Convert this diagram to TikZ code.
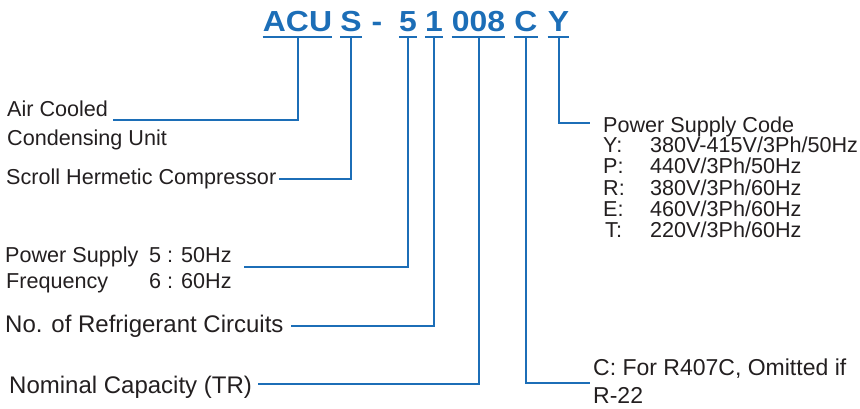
\documentclass[tikz,border=0pt]{standalone}
\usepackage{fontspec}
\setmainfont{Liberation Sans}
\newfontfamily\codefont{Liberation Sans}[FakeStretch=1.1]
\definecolor{cblue}{HTML}{1C6EB7}
\definecolor{ctext}{HTML}{231F20}
\begin{document}
\begin{tikzpicture}[x=1pt,y=-1pt,
  lbl/.style={anchor=base west, inner sep=0pt, text=ctext, font=\fontsize{21.6}{24}\selectfont},
  big/.style={lbl, font=\fontsize{24}{28}\selectfont},
  mid/.style={lbl, font=\fontsize{23}{26}\selectfont},
  code/.style={anchor=base, inner sep=0pt, text=cblue, font=\codefont\bfseries\fontsize{29}{32}\selectfont},
  uline/.style={draw=cblue, line width=2.6pt},
  conn/.style={draw=cblue, line width=2pt}]
\useasboundingbox (0,0) rectangle (860,409);

% code letters
\node[code] (acu) at (297.5,32) {ACU};
\node[code] (s)   at (351,32) {S};
\node[code] (dash) at (377,32) {-};
\node[code] (five) at (408,32) {5};
\node[code] (one)  at (434,32) {1};
\node[code] (cap)  at (478.5,32) {008};
\node[code] (c)    at (526,32) {C};
\node[code] (y)    at (558.5,32) {Y};

\foreach \n in {acu,s,five,one,cap,c,y}
  \draw[uline] ([yshift=-5pt]\n.base west) -- coordinate (\n U) ([yshift=-5pt]\n.base east);

% left labels
\node[lbl] (air)    at (7,117) {Air Cooled};
\node[lbl] (cond)   at (7,146) {Condensing Unit};
\node[lbl] (scroll) at (6,185) {Scroll Hermetic Compressor};
\node[lbl] (ps1)    at (5,262) {Power Supply};
\node[lbl] (ps2)    at (149,262) {5 : 50Hz};
\node[lbl] (ps3)    at (6,288) {Frequency};
\node[lbl] (ps4)    at (149,288) {6 : 60Hz};
\node[big] (nrc)    at (5,332) {No. of Refrigerant Circuits};
\node[big] (nom)    at (9,393) {Nominal Capacity (TR)};

% right labels
\node[lbl] (psc) at (603,132.7) {Power Supply Code};
\node[lbl] (kY) at (603,153) {Y:};   \node[lbl] (vY) at (650,153) {380V-415V/3Ph/50Hz};
\node[lbl] (kP) at (603,174) {P:};   \node[lbl] (vP) at (650,174) {440V/3Ph/50Hz};
\node[lbl] (kR) at (603,195.5) {R:}; \node[lbl] (vR) at (650,195.5) {380V/3Ph/60Hz};
\node[lbl] (kE) at (603,216.5) {E:}; \node[lbl] (vE) at (650,216.5) {460V/3Ph/60Hz};
\node[lbl] (kT) at (605,237) {T:};   \node[lbl] (vT) at (650,237) {220V/3Ph/60Hz};
\node[mid] (cr1) at (593,375) {C: For R407C, Omitted if};
\node[mid] (cr2) at (593,403) {R-22};

% connectors
\draw[conn] (acuU) |- ([xshift=5pt,yshift=-3pt]air.base east);
\draw[conn] (sU) |- ([xshift=3pt,yshift=6pt]scroll.base east);
\draw[conn] (fiveU) |- ([xshift=12pt,yshift=-5pt]ps2.base east);
\draw[conn] (oneU) |- ([xshift=7pt,yshift=6pt]nrc.base east);
\draw[conn] (capU) |- ([xshift=6pt,yshift=9pt]nom.base east);
\draw[conn] (cU) |- ([xshift=-3pt,yshift=-8pt]cr1.base west);
\draw[conn] (yU) |- ([xshift=-13pt,yshift=10pt]psc.base west);
\end{tikzpicture}
\end{document}
